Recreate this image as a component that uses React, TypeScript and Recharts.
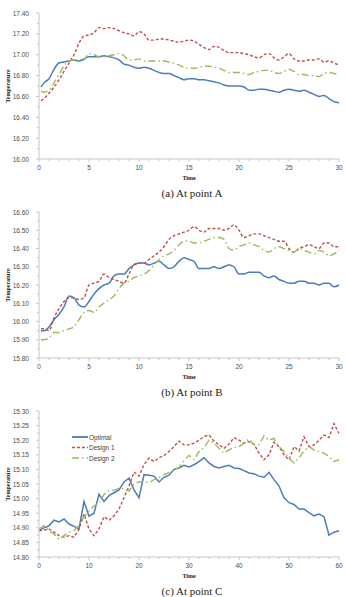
import { Line, LineChart, XAxis, YAxis } from 'recharts';

const BLUE = '#4a7ebb';
const RED = '#c0504d';
const GREEN = '#9bbb59';
const AXIS_COLOR = '#c6c6c6';
const TICK_TEXT = '#4d4d4d';
const TITLE_TEXT = '#222222';
const SANS = '"Liberation Sans", Arial, sans-serif';
const SERIF = '"Liberation Serif", "Times New Roman", serif';

const PANEL_WIDTH = 346;
const PANEL_HEIGHT = 185;

// time axis (min) for points A and B
const timeAB = [
	0.2, 0.5, 1, 1.5, 2, 2.5, 3, 3.5, 4, 4.5, 5, 5.5, 6, 6.5, 7, 7.5, 8, 8.5, 9, 9.5, 10,
	10.5, 11, 11.5, 12, 12.5, 13, 13.5, 14, 14.5, 15, 15.5, 16, 16.5, 17, 17.5, 18, 18.5, 19,
	19.5, 20, 20.5, 21, 21.5, 22, 22.5, 23, 23.5, 24, 24.5, 25, 25.5, 26, 26.5, 27, 27.5, 28,
	28.5, 29, 29.5, 30,
];

const optimalA = [
	16.69, 16.73, 16.77, 16.86, 16.92, 16.93, 16.94, 16.95, 16.94, 16.96, 16.98, 16.98, 16.98,
	16.99, 16.98, 16.97, 16.95, 16.91, 16.9, 16.88, 16.87, 16.88, 16.87, 16.85, 16.83, 16.82,
	16.82, 16.8, 16.78, 16.76, 16.77, 16.77, 16.76, 16.76, 16.75, 16.74, 16.73, 16.71, 16.7,
	16.7, 16.7, 16.69, 16.66, 16.66, 16.67, 16.67, 16.66, 16.65, 16.64, 16.66, 16.67, 16.66,
	16.65, 16.66, 16.64, 16.62, 16.6, 16.61, 16.58, 16.55, 16.54,
];
const design1A = [
	16.56, 16.58, 16.63, 16.69, 16.76, 16.84, 16.92, 17.0, 17.11, 17.18, 17.19, 17.21, 17.26,
	17.25, 17.26, 17.25, 17.23, 17.21, 17.2, 17.18, 17.22, 17.2, 17.14, 17.14, 17.15, 17.15,
	17.14, 17.13, 17.12, 17.13, 17.14, 17.13, 17.1, 17.07, 17.05, 17.08, 17.07, 17.04, 17.02,
	17.02, 17.02, 17.01, 17.0, 16.98, 16.97, 17.0, 17.01, 16.97, 16.95, 16.98, 17.01, 16.96,
	16.94, 16.94, 16.95, 16.95, 16.96, 16.93, 16.94, 16.92, 16.9,
];
const design2A = [
	16.65, 16.64, 16.66, 16.73, 16.81, 16.89, 16.94, 16.95, 16.94, 16.95, 17.01, 17.0, 16.98,
	16.98, 16.99, 17.0, 17.01, 16.99, 16.95, 16.95, 16.96, 16.94, 16.94, 16.94, 16.94, 16.94,
	16.93, 16.92, 16.9, 16.88, 16.87, 16.87, 16.88, 16.89, 16.89, 16.88, 16.87, 16.85, 16.83,
	16.83, 16.83, 16.82, 16.81, 16.83, 16.84, 16.85, 16.85, 16.83, 16.82, 16.84, 16.86, 16.84,
	16.81, 16.81, 16.8, 16.8, 16.79, 16.82, 16.83, 16.82, 16.81,
];

const optimalB = [
	15.95, 15.95, 15.97, 16.01, 16.04, 16.08, 16.14, 16.13, 16.09, 16.08, 16.11, 16.15, 16.18,
	16.2, 16.21, 16.25, 16.26, 16.26, 16.29, 16.31, 16.32, 16.32, 16.31, 16.32, 16.33, 16.31,
	16.29, 16.3, 16.33, 16.35, 16.34, 16.33, 16.29, 16.29, 16.29, 16.3, 16.29, 16.3, 16.31,
	16.3, 16.26, 16.26, 16.27, 16.27, 16.27, 16.25, 16.24, 16.25, 16.23, 16.22, 16.21, 16.21,
	16.22, 16.22, 16.21, 16.21, 16.2, 16.21, 16.21, 16.19, 16.2,
];
const design1B = [
	15.96, 15.96, 15.95, 16.02, 16.07, 16.11, 16.13, 16.13, 16.12, 16.13, 16.2, 16.21, 16.22,
	16.26, 16.24, 16.23, 16.22, 16.21, 16.26, 16.31, 16.32, 16.32, 16.34, 16.36, 16.38, 16.41,
	16.45, 16.47, 16.48, 16.49, 16.5, 16.52, 16.5, 16.49, 16.51, 16.51, 16.51, 16.5, 16.51,
	16.53, 16.5, 16.46, 16.47, 16.48, 16.48, 16.47, 16.46, 16.45, 16.44, 16.44, 16.4, 16.38,
	16.4, 16.41, 16.42, 16.41, 16.4, 16.43, 16.43, 16.41, 16.41,
];
const design2B = [
	15.9, 15.9, 15.91, 15.94, 15.94, 15.95, 15.96, 15.97, 16.01, 16.05, 16.06, 16.05, 16.08,
	16.1, 16.12, 16.14, 16.18, 16.21, 16.22, 16.24, 16.25, 16.26, 16.28, 16.31, 16.34, 16.36,
	16.37, 16.39, 16.42, 16.44, 16.44, 16.43, 16.43, 16.44, 16.45, 16.46, 16.46, 16.45, 16.4,
	16.39, 16.41, 16.42, 16.43, 16.42, 16.41, 16.39, 16.38, 16.4, 16.41, 16.4, 16.39, 16.38,
	16.4, 16.39, 16.38, 16.37, 16.39, 16.38, 16.36, 16.37, 16.39,
];

// point C runs for 60 min, one sample per minute
const timeC = [
	0, 1, 2, 3, 4, 5, 6, 7, 8, 9, 10, 11, 12, 13, 14, 15, 16, 17, 18, 19, 20, 21, 22, 23, 24,
	25, 26, 27, 28, 29, 30, 31, 32, 33, 34, 35, 36, 37, 38, 39, 40, 41, 42, 43, 44, 45, 46, 47,
	48, 49, 50, 51, 52, 53, 54, 55, 56, 57, 58, 59, 60,
];
const optimalC = [
	14.89, 14.9, 14.907, 14.926, 14.92, 14.93, 14.913, 14.905, 14.896, 14.99, 14.94, 14.95,
	15.015, 14.99, 15.01, 15.02, 15.03, 15.057, 15.07, 15.03, 15.003, 15.082, 15.08, 15.077,
	15.057, 15.073, 15.08, 15.1, 15.105, 15.114, 15.108, 15.116, 15.127, 15.14, 15.122, 15.11,
	15.105, 15.11, 15.114, 15.105, 15.103, 15.096, 15.088, 15.085, 15.077, 15.073, 15.09,
	15.065, 15.043, 15.003, 14.986, 14.98, 14.964, 14.964, 14.952, 14.941, 14.947, 14.938,
	14.875, 14.885, 14.89,
];
const design1C = [
	14.89, 14.892, 14.896, 14.885, 14.873, 14.868, 14.873, 14.868, 14.896, 14.947, 14.896,
	14.873, 14.896, 14.938, 14.926, 14.941, 14.964, 15.003, 15.043, 15.091, 15.077, 15.116,
	15.139, 15.127, 15.14, 15.147, 15.161, 15.178, 15.197, 15.184, 15.184, 15.19, 15.2, 15.212,
	15.218, 15.197, 15.184, 15.172, 15.186, 15.209, 15.2, 15.19, 15.195, 15.186, 15.156,
	15.133, 15.15, 15.193, 15.178, 15.15, 15.133, 15.178, 15.163, 15.212, 15.178, 15.184, 15.2,
	15.218, 15.209, 15.257, 15.223,
];
const design2C = [
	14.896, 14.907, 14.89, 14.879, 14.86, 14.873, 14.885, 14.89, 14.91, 14.938, 14.956,
	14.975, 14.983, 15.014, 15.028, 15.029, 15.035, 15.034, 15.026, 15.05, 15.057, 15.06,
	15.054, 15.065, 15.073, 15.082, 15.089, 15.098, 15.107, 15.13, 15.148, 15.133, 15.161,
	15.175, 15.2, 15.19, 15.172, 15.156, 15.167, 15.175, 15.178, 15.19, 15.204, 15.184,
	15.184, 15.215, 15.2, 15.206, 15.178, 15.161, 15.139, 15.122, 15.14, 15.163, 15.178,
	15.167, 15.161, 15.156, 15.144, 15.127, 15.133,
];

const xTicksAB = [0, 5, 10, 15, 20, 25, 30];
const xTicksC = [0, 10, 20, 30, 40, 50, 60];
const yTicksA = [16.0, 16.2, 16.4, 16.6, 16.8, 17.0, 17.2, 17.4];
const yTicksB = [15.8, 15.9, 16.0, 16.1, 16.2, 16.3, 16.4, 16.5, 16.6];
const yTicksC = [14.8, 14.85, 14.9, 14.95, 15.0, 15.05, 15.1, 15.15, 15.2, 15.25, 15.3];

const seriesNames = ['Optimal', 'Design 1', 'Design 2'];

type Row = { t: number; optimal: number; design1: number; design2: number };

function buildRows(times: number[], optimal: number[], design1: number[], design2: number[]): Row[] {
	return times.map((t, i) => ({ t, optimal: optimal[i], design1: design1[i], design2: design2[i] }));
}

// majors plus evenly spaced minor marks between each pair
function withMinor(majors: number[], parts: number) {
	const out: number[] = [];
	for (let i = 0; i < majors.length - 1; i++) {
		const step = (majors[i + 1] - majors[i]) / parts;
		for (let k = 0; k < parts; k++) out.push(Number((majors[i] + step * k).toFixed(4)));
	}
	out.push(majors[majors.length - 1]);
	return out;
}

const isMajor = (majors: number[], v: number) => majors.some((m) => Math.abs(m - v) < 1e-6);

const SERIES_STYLE = {
	optimal: { stroke: BLUE, dash: undefined as string | undefined, width: 1.5 },
	design1: { stroke: RED, dash: '3 2', width: 1.4 },
	design2: { stroke: GREEN, dash: '7 3 1.5 3', width: 1.4 },
};

interface PanelProps {
	top: number;
	rows: Row[];
	xMax: number;
	xTicks: number[];
	xParts: number;
	yDomain: [number, number];
	yTicks: number[];
	caption: string;
	curve: 'monotone' | 'linear';
	legend?: boolean;
}

function Panel({ top, rows, xMax, xTicks, xParts, yDomain, yTicks, caption, curve, legend }: PanelProps) {
	const xAll = withMinor(xTicks, xParts);
	const yAll = withMinor(yTicks, 2);

	const renderYTick = (props: any) => {
		const { x, y, payload } = props;
		const major = isMajor(yTicks, payload.value);
		return (
			<g>
				<line x1={x - (major ? 3 : 2)} x2={x} y1={y} y2={y} stroke={AXIS_COLOR} />
				{major && (
					<text
						x={x - 10}
						y={y}
						textAnchor="end"
						dominantBaseline="central"
						fontSize={6.5}
						fontFamily={SANS}
						fill={TICK_TEXT}
					>
						{payload.value.toFixed(2)}
					</text>
				)}
			</g>
		);
	};

	const renderXTick = (props: any) => {
		const { x, y, payload } = props;
		const major = isMajor(xTicks, payload.value);
		return (
			<g>
				<line x1={x} x2={x} y1={y} y2={y + (major ? 3 : 2)} stroke={AXIS_COLOR} />
				{major && (
					<text
						x={x}
						y={y + 8}
						textAnchor="middle"
						dominantBaseline="central"
						fontSize={6.5}
						fontFamily={SANS}
						fill={TICK_TEXT}
					>
						{String(payload.value)}
					</text>
				)}
			</g>
		);
	};

	const titleStyle = { fontSize: 6, fontWeight: 'bold', fontFamily: SERIF, fill: TITLE_TEXT };

	return (
		<>
			<div style={{ position: 'absolute', left: 0, top }}>
				<LineChart
					width={PANEL_WIDTH}
					height={PANEL_HEIGHT}
					data={rows}
					margin={{ top: 13, right: 7, left: 9, bottom: 0 }}
				>
					<XAxis
						dataKey="t"
						type="number"
						domain={[0, xMax]}
						ticks={xAll}
						interval={0}
						tickSize={0}
						tickMargin={0}
						tickLine={false}
						tick={renderXTick}
						height={26}
						stroke={AXIS_COLOR}
						label={{ value: 'Time', position: 'insideBottom', offset: 5, style: titleStyle }}
					/>
					<YAxis
						type="number"
						domain={yDomain}
						ticks={yAll}
						interval={0}
						tickSize={0}
						tickMargin={0}
						tickLine={false}
						tick={renderYTick}
						width={30}
						stroke={AXIS_COLOR}
						allowDataOverflow
						label={{
							value: 'Temperature',
							angle: -90,
							position: 'insideLeft',
							offset: -1,
							style: { ...titleStyle, textAnchor: 'middle' },
						}}
					/>
					{(['optimal', 'design1', 'design2'] as const).map((key, i) => (
						<Line
							key={key}
							type={curve}
							dataKey={key}
							name={seriesNames[i]}
							stroke={SERIES_STYLE[key].stroke}
							strokeWidth={SERIES_STYLE[key].width}
							strokeDasharray={SERIES_STYLE[key].dash}
							dot={false}
							isAnimationActive={false}
						/>
					))}
				</LineChart>
			</div>
			{legend && <SeriesLegend left={70} top={top + 34} />}
			<div
				style={{
					position: 'absolute',
					left: 38,
					width: 308,
					top: top + PANEL_HEIGHT + 1,
					textAlign: 'center',
					fontFamily: SERIF,
					fontSize: 11,
					lineHeight: '14px',
					color: TITLE_TEXT,
				}}
			>
				{caption}
			</div>
		</>
	);
}

function SeriesLegend({ left, top }: { left: number; top: number }) {
	const keys = ['optimal', 'design1', 'design2'] as const;
	return (
		<svg width={90} height={32} style={{ position: 'absolute', left, top }}>
			{keys.map((key, i) => {
				const y = 5 + i * 10.5;
				return (
					<g key={key}>
						<line
							x1={2}
							x2={18}
							y1={y}
							y2={y}
							stroke={SERIES_STYLE[key].stroke}
							strokeWidth={key === 'optimal' ? 1.8 : 1.4}
							strokeDasharray={SERIES_STYLE[key].dash}
						/>
						<text
							x={19}
							y={y}
							dominantBaseline="central"
							fontSize={6.5}
							fontFamily={SANS}
							fill="#404040"
						>
							{seriesNames[i]}
						</text>
					</g>
				);
			})}
		</svg>
	);
}

export default function App() {
	const rowsA = buildRows(timeAB, optimalA, design1A, design2A);
	const rowsB = buildRows(timeAB, optimalB, design1B, design2B);
	const rowsC = buildRows(timeC, optimalC, design1C, design2C);

	return (
		<div style={{ position: 'absolute', left: 0, top: 0, width: 346, height: 597, background: '#fff' }}>
			<Panel
				top={0}
				rows={rowsA}
				xMax={30}
				xTicks={xTicksAB}
				xParts={5}
				yDomain={[16.0, 17.4]}
				yTicks={yTicksA}
				caption="(a) At point A"
				curve="monotone"
			/>
			<Panel
				top={199}
				rows={rowsB}
				xMax={30}
				xTicks={xTicksAB}
				xParts={5}
				yDomain={[15.8, 16.6]}
				yTicks={yTicksB}
				caption="(b) At point B"
				curve="monotone"
			/>
			<Panel
				top={398}
				rows={rowsC}
				xMax={60}
				xTicks={xTicksC}
				xParts={5}
				yDomain={[14.8, 15.3]}
				yTicks={yTicksC}
				caption="(c) At point C"
				curve="linear"
				legend
			/>
		</div>
	);
}
